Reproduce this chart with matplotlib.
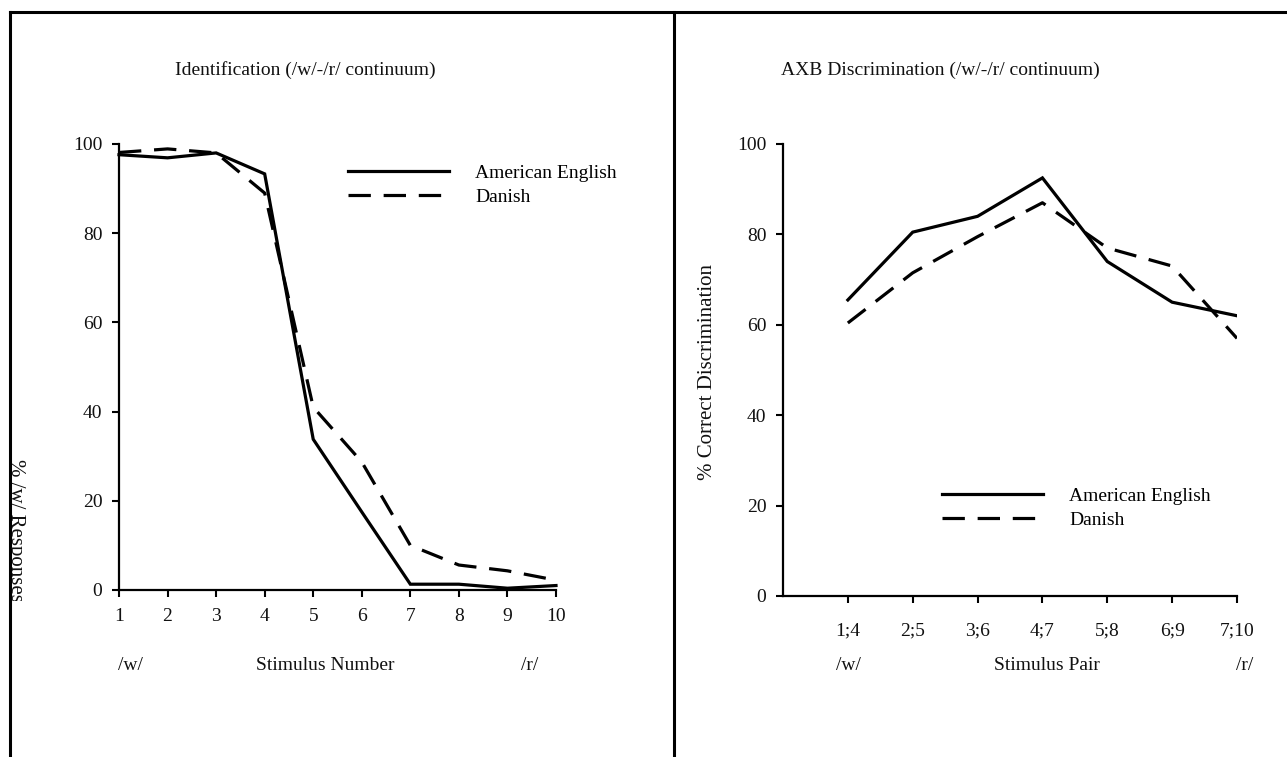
import matplotlib
matplotlib.use("Agg")
import matplotlib.pyplot as plt
from matplotlib.lines import Line2D
from matplotlib.transforms import Bbox

# ---- data ----
stim_numbers = [1, 2, 3, 4, 5, 6, 7, 8, 9, 10]
ident_american = [97.6, 96.9, 98.0, 93.3, 33.8, 17.5, 1.3, 1.3, 0.4, 1.0]
ident_danish = [98.1, 98.9, 98.0, 89.0, 41.0, 28.7, 10.0, 5.6, 4.3, 2.2]

pair_labels = ["1;4", "2;5", "3;6", "4;7", "5;8", "6;9", "7;10"]
pair_pos = [1, 2, 3, 4, 5, 6, 7]
disc_american = [65.5, 80.5, 84.0, 92.5, 74.0, 65.0, 62.0]
disc_danish = [60.4, 71.5, 79.5, 87.0, 77.0, 73.0, 57.0]

series_names = ["American English", "Danish"]
y_ticks = [0, 20, 40, 60, 80, 100]

W, H = 1287, 757
plt.rcParams['font.family'] = ['Liberation Serif', 'DejaVu Serif']
FS = 14
FS_Y = 15
fig = plt.figure(figsize=(W / 100, H / 100), dpi=100)


def fx(x):
    return x / W


def fy(y):
    return 1 - y / H


def axes_px(x0, y0, x1, y1):
    # pixel coordinates from top-left: x0,x1 left/right ; y0 top, y1 bottom
    return fig.add_axes([fx(x0), fy(y1), (x1 - x0) / W, (y1 - y0) / H])


LW = 2.3
DASH = (0, (7, 4))
TXT = '#111111'
LEG = dict(frameon=False, fontsize=FS, handlelength=5.2, handletextpad=1.35,
           labelspacing=0.33, borderpad=0, borderaxespad=0)

# ---- left panel ----
axL = axes_px(119, 144, 556, 590)
axL.plot(stim_numbers, ident_american, color='black', lw=LW, ls='-',
         label=series_names[0], clip_on=False, solid_joinstyle='miter')
axL.plot(stim_numbers, ident_danish, color='black', lw=LW, ls=DASH,
         label=series_names[1], clip_on=False)
axL.set_xlim(1, 10)
axL.set_ylim(0, 100)
axL.set_xticks(stim_numbers)
axL.set_yticks(y_ticks)
axL.tick_params(axis='both', direction='out', length=5, width=1.5,
                labelsize=FS, colors='black', labelcolor=TXT)
axL.tick_params(axis='y', pad=7)
axL.tick_params(axis='x', pad=8)
for s in ['top', 'right']:
    axL.spines[s].set_visible(False)
for s in ['left', 'bottom']:
    axL.spines[s].set_linewidth(1.6)
axL.legend(loc='center left', bbox_to_anchor=(fx(348), fy(185)),
           bbox_transform=fig.transFigure, **LEG)

fig.text(fx(305), fy(70), "Identification (/w/-/r/ continuum)",
         ha='center', va='center', fontsize=FS, color=TXT)
fig.text(fx(130), fy(665), "/w/", ha='center', va='center', fontsize=FS, color=TXT)
fig.text(fx(325), fy(665), "Stimulus Number", ha='center', va='center', fontsize=FS, color=TXT)
fig.text(fx(530), fy(665), "/r/", ha='center', va='center', fontsize=FS, color=TXT)
ylab = fig.text(fx(15), fy(530), "% /w/ Responses", rotation=-90,
                ha='center', va='center', fontsize=FS_Y, color=TXT)
ylab.set_clip_box(Bbox.from_extents(11, H - 601, 200, H - 130))
ylab.set_clip_on(True)

# ---- right panel ----
axR = axes_px(783, 144, 1237, 596)
axR.plot(pair_pos, disc_american, color='black', lw=LW, ls='-',
         label=series_names[0], solid_joinstyle='miter')
axR.plot(pair_pos, disc_danish, color='black', lw=LW, ls=DASH,
         label=series_names[1])
axR.set_xlim(0, 7)
axR.set_ylim(0, 100)
axR.set_xticks(pair_pos)
axR.set_xticklabels(pair_labels)
axR.set_yticks(y_ticks)
axR.tick_params(axis='both', direction='out', length=5, width=1.5,
                labelsize=FS, colors='black', labelcolor=TXT)
axR.tick_params(axis='y', pad=7)
axR.tick_params(axis='x', pad=14)
for s in ['top', 'right']:
    axR.spines[s].set_visible(False)
for s in ['left', 'bottom']:
    axR.spines[s].set_linewidth(1.6)
axR.set_ylabel("% Correct Discrimination", fontsize=FS_Y, color=TXT)
axR.yaxis.set_label_coords(fx(717), fy(372), transform=fig.transFigure)
axR.legend(loc='center left', bbox_to_anchor=(fx(942), fy(508)),
           bbox_transform=fig.transFigure, **LEG)

fig.text(fx(940), fy(70), "AXB Discrimination (/w/-/r/ continuum)",
         ha='center', va='center', fontsize=FS, color=TXT)
fig.text(fx(848), fy(665), "/w/", ha='center', va='center', fontsize=FS, color=TXT)
fig.text(fx(1047), fy(665), "Stimulus Pair", ha='center', va='center', fontsize=FS, color=TXT)
fig.text(fx(1245), fy(665), "/r/", ha='center', va='center', fontsize=FS, color=TXT)

# ---- frame lines ----
BW = 2.2
fig.add_artist(Line2D([fx(10), 1.0], [fy(12), fy(12)], color='black', lw=BW))
fig.add_artist(Line2D([fx(10), fx(10)], [fy(12), 0.0], color='black', lw=BW))
fig.add_artist(Line2D([fx(674), fx(674)], [fy(12), 0.0], color='black', lw=BW))

fig.savefig("out.png", dpi=100)
